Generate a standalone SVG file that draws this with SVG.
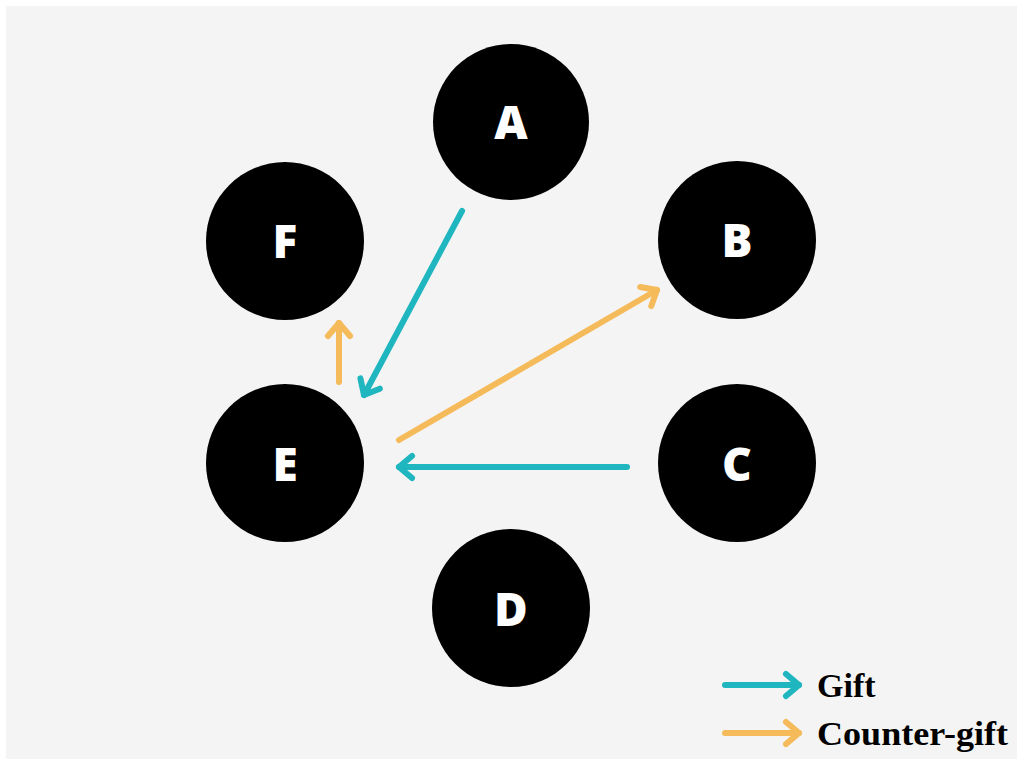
<svg xmlns="http://www.w3.org/2000/svg" width="1017" height="759" viewBox="0 0 1017 759">
  <style>
    .node circle { fill: #000; }
    .node text { fill: #fff; font-family: "Open Sans", "DejaVu Sans", sans-serif; font-weight: 800; font-size: 46px; text-anchor: middle; }
    .gift { stroke: #1fb6bf; stroke-width: 6; fill: none; stroke-linecap: round; }
    .counter { stroke: #f5ba5a; stroke-width: 6; fill: none; stroke-linecap: round; }
    .legend text { font-family: "Liberation Serif", "Times New Roman", serif; font-weight: bold; font-size: 34px; fill: #000; }
  </style>
  <defs>
    <marker id="headTeal" markerUnits="userSpaceOnUse" orient="auto" refX="0" refY="0" markerWidth="30" markerHeight="30" viewBox="-20 -15 30 30" overflow="visible">
      <path d="M-13,-11 L0,0 L-13,11" fill="none" stroke="#1fb6bf" stroke-width="6" stroke-linecap="round" stroke-linejoin="round"/>
    </marker>
    <marker id="headOrange" markerUnits="userSpaceOnUse" orient="auto" refX="0" refY="0" markerWidth="30" markerHeight="30" viewBox="-20 -15 30 30" overflow="visible">
      <path d="M-13,-11 L0,0 L-13,11" fill="none" stroke="#f5ba5a" stroke-width="6" stroke-linecap="round" stroke-linejoin="round"/>
    </marker>
  </defs>
  <rect x="0" y="0" width="1017" height="759" fill="#ffffff"/>
  <rect x="6" y="6" width="1011" height="753" fill="#f4f4f4"/>

  <g id="node-A" class="node"><circle cx="511" cy="122" r="78"/><text x="511" y="139">A</text></g>
  <g id="node-B" class="node"><circle cx="737" cy="240" r="79"/><text x="737" y="257">B</text></g>
  <g id="node-C" class="node"><circle cx="737" cy="463" r="79"/><text x="737" y="481">C</text></g>
  <g id="node-D" class="node"><circle cx="511" cy="608" r="79"/><text x="511" y="626">D</text></g>
  <g id="node-E" class="node"><circle cx="285" cy="463" r="79"/><text x="285" y="481">E</text></g>
  <g id="node-F" class="node"><circle cx="285" cy="241" r="79"/><text x="285" y="258">F</text></g>

  <g id="connectors">
    <line class="gift" x1="462" y1="211" x2="364" y2="395" marker-end="url(#headTeal)"/>
    <line class="gift" x1="627" y1="467" x2="399" y2="467" marker-end="url(#headTeal)"/>
    <line class="counter" x1="399" y1="440" x2="657" y2="290" marker-end="url(#headOrange)"/>
    <line class="counter" x1="339" y1="382" x2="339" y2="323" marker-end="url(#headOrange)"/>
  </g>

  <g id="legend" class="legend">
    <line class="gift" x1="725" y1="685" x2="799" y2="685" marker-end="url(#headTeal)"/>
    <text x="817" y="697">Gift</text>
    <line class="counter" x1="725" y1="733" x2="799" y2="733" marker-end="url(#headOrange)"/>
    <text x="817" y="745" textLength="191" lengthAdjust="spacingAndGlyphs">Counter-gift</text>
  </g>
</svg>
